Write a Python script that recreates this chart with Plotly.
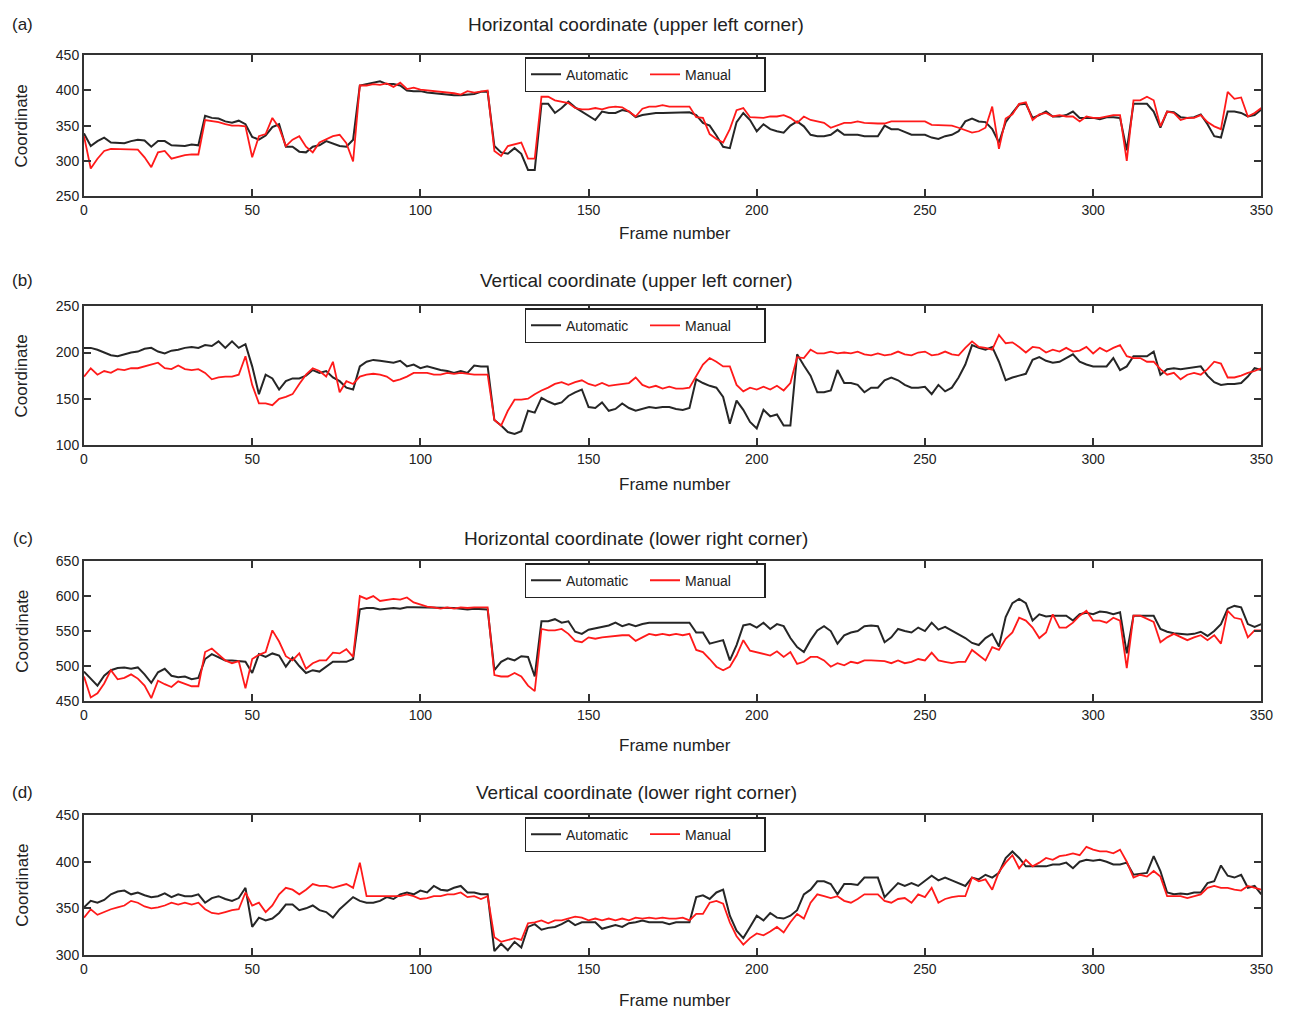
import plotly.graph_objects as go

frames = list(range(0, 351, 2))

a_auto = [339, 321, 328, 333, 326, 325, 325, 328, 330, 329,
          320, 328, 328, 322, 322, 321, 323, 322, 364, 361,
          360, 356, 354, 357, 352, 334, 330, 336, 348, 352,
          320, 320, 313, 312, 320, 322, 328, 324, 321, 320,
          330, 407, 409, 410, 413, 409, 409, 407, 400, 399,
          399, 397, 396, 395, 393, 393, 393, 394, 395, 398,
          398, 321, 312, 310, 318, 310, 287, 287, 381, 381,
          368, 375, 384, 376, 370, 363, 358, 370, 368, 368,
          372, 370, 362, 365, 367, 368, 368, 368, 368, 368,
          369, 365, 354, 350, 336, 320, 318, 355, 368, 358,
          342, 352, 345, 342, 340, 350, 356, 349, 337, 335,
          335, 337, 344, 337, 337, 337, 335, 335, 335, 350,
          345, 345, 341, 337, 337, 337, 333, 331, 335, 337,
          342, 356, 360, 356, 355, 345, 326, 355, 368, 380,
          381, 361, 365, 370, 363, 363, 365, 370, 361, 361,
          361, 359, 362, 362, 361, 315, 381, 381, 381, 370,
          347, 370, 369, 362, 361, 362, 366, 352, 335, 333,
          370, 370, 368, 363, 365, 373]
a_man = [335, 289, 303, 314, 317, 317, 316, 317, 316, 305,
         291, 312, 314, 303, 306, 308, 309, 309, 358, 357,
         355, 352, 350, 350, 349, 305, 335, 338, 361, 347,
         321, 330, 335, 320, 312, 326, 330, 335, 337, 325,
         299, 407, 407, 409, 408, 410, 405, 411, 402, 404,
         401, 400, 399, 398, 398, 396, 394, 399, 397, 398,
         400, 314, 307, 321, 324, 326, 303, 303, 391, 391,
         386, 384, 382, 375, 373, 373, 375, 373, 376, 377,
         376, 370, 363, 374, 377, 377, 379, 377, 377, 376,
         377, 362, 361, 338, 331, 326, 345, 372, 375, 362,
         361, 361, 363, 363, 365, 361, 354, 363, 358, 356,
         354, 347, 351, 354, 354, 356, 354, 353, 353, 353,
         356, 356, 356, 357, 356, 356, 351, 351, 351, 350,
         347, 343, 340, 342, 347, 377, 317, 360, 366, 381,
         383, 358, 366, 368, 363, 365, 363, 363, 356, 363,
         361, 361, 363, 365, 365, 300, 386, 386, 391, 386,
         349, 370, 368, 358, 361, 361, 365, 355, 349, 345,
         398, 388, 390, 363, 368, 375]

b_auto = [205, 205, 203, 200, 197, 196, 198, 200, 201, 204,
          205, 201, 199, 202, 203, 205, 206, 205, 208, 207,
          212, 205, 212, 205, 209, 185, 155, 176, 172, 160,
          169, 172, 172, 175, 181, 178, 180, 173, 169, 162,
          160, 185, 190, 192, 191, 190, 189, 191, 185, 187,
          183, 185, 183, 181, 180, 178, 180, 178, 186, 185,
          185, 127, 121, 114, 112, 115, 137, 135, 151, 147,
          144, 146, 153, 157, 160, 141, 140, 146, 137, 139,
          145, 140, 137, 139, 141, 140, 141, 141, 139, 138,
          140, 171, 167, 164, 162, 152, 123, 148, 138, 125,
          118, 138, 131, 133, 121, 121, 198, 186, 175, 157,
          157, 159, 181, 167, 167, 165, 157, 162, 162, 170,
          173, 170, 165, 162, 162, 163, 155, 165, 158, 162,
          173, 187, 208, 205, 203, 206, 190, 170, 173, 175,
          177, 192, 195, 191, 189, 190, 194, 198, 190, 187,
          185, 185, 185, 194, 181, 185, 196, 196, 196, 201,
          176, 182, 183, 182, 183, 184, 185, 175, 168, 165,
          166, 166, 167, 174, 183, 181]
b_man = [174, 183, 176, 180, 178, 182, 181, 183, 183, 185,
         187, 189, 183, 182, 186, 182, 181, 182, 178, 171,
         173, 174, 174, 176, 196, 165, 145, 145, 143, 150,
         152, 155, 166, 176, 183, 180, 174, 190, 157, 169,
         166, 174, 176, 177, 176, 174, 169, 171, 174, 178,
         178, 178, 176, 176, 178, 177, 178, 177, 176, 176,
         176, 127, 121, 137, 149, 149, 150, 155, 159, 162,
         166, 168, 165, 168, 170, 166, 164, 167, 164, 165,
         166, 167, 173, 165, 162, 164, 161, 163, 161, 161,
         162, 175, 187, 194, 190, 185, 185, 165, 158, 162,
         160, 163, 160, 164, 159, 167, 195, 194, 203, 199,
         199, 201, 199, 200, 199, 201, 198, 197, 199, 197,
         198, 201, 198, 197, 200, 201, 197, 198, 201, 198,
         197, 205, 212, 206, 205, 203, 219, 210, 211, 206,
         200, 206, 205, 200, 203, 201, 205, 201, 202, 206,
         199, 205, 201, 205, 208, 196, 194, 194, 190, 190,
         182, 176, 178, 171, 176, 178, 176, 182, 190, 188,
         173, 173, 175, 178, 180, 183]

c_auto = [492, 482, 472, 486, 494, 497, 498, 496, 498, 488,
          476, 491, 496, 486, 484, 485, 481, 483, 510, 517,
          513, 508, 508, 507, 506, 490, 517, 513, 518, 515,
          499, 512, 500, 490, 494, 492, 499, 506, 506, 506,
          510, 581, 583, 583, 581, 582, 583, 582, 584, 584,
          584, 584, 584, 583, 584, 583, 582, 581, 582, 581,
          581, 494, 506, 511, 508, 514, 513, 485, 564, 564,
          567, 562, 564, 549, 546, 552, 554, 555, 558, 562,
          557, 560, 557, 560, 562, 562, 562, 562, 563, 563,
          562, 548, 548, 532, 535, 537, 508, 530, 558, 560,
          555, 562, 553, 560, 557, 540, 527, 520, 537, 551,
          557, 550, 532, 544, 548, 550, 557, 558, 557, 534,
          541, 553, 550, 548, 555, 550, 562, 552, 556, 551,
          546, 540, 533, 530, 540, 546, 528, 570, 590, 596,
          590, 565, 574, 571, 572, 572, 572, 565, 574, 576,
          574, 578, 577, 574, 577, 518, 572, 572, 572, 572,
          553, 549, 547, 546, 545, 546, 549, 543, 550, 560,
          582, 586, 584, 560, 556, 560]
c_man = [485, 455, 461, 475, 494, 481, 483, 488, 482, 472,
         454, 479, 474, 470, 478, 474, 471, 471, 520, 525,
         516, 508, 504, 507, 468, 510, 516, 520, 551, 535,
         514, 508, 518, 496, 504, 508, 508, 519, 518, 524,
         513, 600, 596, 600, 593, 595, 596, 595, 598, 591,
         588, 585, 584, 582, 584, 582, 584, 583, 584, 584,
         584, 487, 485, 485, 490, 485, 472, 464, 553, 551,
         551, 553, 546, 536, 534, 541, 539, 541, 542, 544,
         544, 544, 536, 541, 546, 544, 546, 544, 546, 544,
         546, 523, 520, 510, 499, 494, 499, 515, 537, 522,
         520, 518, 515, 521, 513, 520, 503, 506, 513, 513,
         508, 499, 504, 501, 506, 504, 508, 508, 508, 507,
         504, 508, 504, 506, 510, 508, 519, 508, 506, 504,
         506, 506, 523, 515, 508, 527, 523, 539, 548, 569,
         565, 555, 540, 548, 574, 555, 555, 562, 572, 579,
         565, 565, 562, 569, 565, 497, 572, 572, 567, 563,
         534, 541, 546, 541, 537, 541, 544, 537, 544, 532,
         579, 569, 567, 541, 551, 551]

d_auto = [351, 358, 356, 359, 365, 368, 369, 365, 367, 364,
          362, 363, 366, 362, 365, 363, 363, 365, 356, 361,
          363, 360, 358, 361, 372, 330, 340, 337, 339, 345,
          354, 354, 348, 350, 353, 348, 346, 340, 349, 355,
          362, 358, 356, 356, 358, 362, 360, 365, 367, 365,
          369, 367, 374, 370, 369, 372, 374, 367, 367, 365,
          365, 304, 312, 305, 314, 308, 330, 333, 327, 329,
          330, 333, 337, 332, 335, 335, 335, 328, 330, 332,
          330, 334, 335, 337, 335, 335, 335, 333, 335, 335,
          335, 362, 364, 360, 367, 370, 342, 326, 318, 330,
          342, 337, 345, 340, 339, 342, 348, 365, 370, 379,
          379, 376, 365, 376, 376, 375, 383, 383, 383, 362,
          370, 377, 374, 377, 374, 380, 385, 380, 383, 380,
          377, 374, 383, 381, 386, 383, 388, 404, 411, 404,
          395, 395, 395, 395, 397, 397, 399, 393, 400, 402,
          401, 402, 400, 397, 397, 399, 386, 387, 388, 406,
          390, 367, 365, 366, 365, 367, 367, 377, 379, 396,
          385, 383, 386, 372, 374, 365]
d_man = [340, 349, 343, 346, 349, 351, 353, 358, 356, 352,
         350, 351, 353, 356, 354, 356, 354, 356, 349, 345,
         344, 346, 348, 349, 367, 353, 356, 346, 353, 365,
         372, 370, 365, 370, 376, 374, 374, 372, 374, 376,
         372, 399, 363, 363, 363, 363, 363, 363, 365, 363,
         360, 361, 363, 363, 365, 365, 367, 362, 363, 360,
         363, 319, 314, 316, 318, 316, 334, 335, 337, 334,
         337, 337, 339, 341, 340, 337, 339, 337, 339, 337,
         339, 337, 340, 339, 340, 339, 340, 339, 339, 340,
         337, 344, 344, 356, 358, 355, 335, 320, 311, 318,
         323, 321, 325, 330, 324, 335, 344, 339, 356, 365,
         363, 361, 363, 358, 356, 360, 365, 365, 365, 358,
         356, 360, 361, 356, 365, 362, 372, 356, 360, 362,
         363, 363, 383, 379, 381, 370, 389, 399, 407, 393,
         402, 395, 399, 404, 402, 406, 407, 409, 407, 416,
         413, 411, 411, 409, 413, 400, 383, 386, 384, 390,
         384, 363, 363, 363, 361, 363, 365, 372, 374, 372,
         372, 370, 369, 374, 372, 370]

panel_labels = ["(a)", "(b)", "(c)", "(d)"]
panel_titles = ["Horizontal coordinate (upper left corner)",
                "Vertical coordinate (upper left corner)",
                "Horizontal coordinate (lower right corner)",
                "Vertical coordinate (lower right corner)"]
y_ranges = [(250, 450), (100, 250), (450, 650), (300, 450)]
y_dtick = 50
x_ticks = [0, 50, 100, 150, 200, 250, 300, 350]
series = [(a_auto, a_man), (b_auto, b_man), (c_auto, c_man), (d_auto, d_man)]

W, H = 1299, 1019


def px(x):
    return x / W


def py(y):
    return 1 - y / H


FONT = "Liberation Sans, Arial, Helvetica, sans-serif"
TXT = "#222222"
# window pixels of each panel: (top, bottom, title_y, xlabel_y)
panels_px = [(48, 191, 17, 229), (303, 444, 277, 484), (562, 704, 539, 749), (820, 962, 797, 1008)]
x_left, x_right = 81, 1273

fig = go.Figure()
legend_names = ["legend", "legend2", "legend3", "legend4"]
layout = dict(width=W, height=H, margin=dict(l=0, r=0, t=0, b=0),
              paper_bgcolor="white", plot_bgcolor="white",
              font=dict(family=FONT, color=TXT, size=14))
annotations = []

for i in range(4):
    auto, man = series[i]
    top, bot, ty, xly = panels_px[i]
    xa = "x" if i == 0 else f"x{i+1}"
    ya = "y" if i == 0 else f"y{i+1}"
    xkey = "xaxis" if i == 0 else f"xaxis{i+1}"
    ykey = "yaxis" if i == 0 else f"yaxis{i+1}"
    fig.add_trace(go.Scatter(x=frames, y=auto, mode="lines", name="Automatic",
                             line=dict(color="#262626", width=2),
                             xaxis=xa, yaxis=ya, legend=legend_names[i]))
    fig.add_trace(go.Scatter(x=frames, y=man, mode="lines", name="Manual",
                             line=dict(color="#ff1a1a", width=1.8),
                             xaxis=xa, yaxis=ya, legend=legend_names[i]))
    axis_common = dict(showline=True, mirror="ticks", linecolor="#333333", linewidth=2,
                       ticks="inside", ticklen=7, tickwidth=2, tickcolor="#333333",
                       showgrid=False, zeroline=False,
                       tickfont=dict(family=FONT, size=14, color=TXT))
    layout[xkey] = dict(domain=[px(x_left), px(x_right)], range=[0, 350],
                        tickvals=x_ticks, anchor=ya, **axis_common)
    layout[ykey] = dict(domain=[py(bot), py(top)], range=list(y_ranges[i]),
                        dtick=y_dtick, anchor=xa, **axis_common)
    layout[legend_names[i]] = dict(x=px(649), y=py(top + 2), xanchor="center", yanchor="top",
                                   orientation="h", bordercolor="#222222", borderwidth=1.5,
                                   bgcolor="white", font=dict(family=FONT, size=14, color=TXT),
                                   itemwidth=30, entrywidth=74, tracegroupgap=0)
    annotations.append(dict(text=panel_labels[i], x=px(19), y=py(ty), xref="paper", yref="paper",
                            xanchor="center", yanchor="middle",
                            showarrow=False, font=dict(family=FONT, size=17, color=TXT)))
    annotations.append(dict(text=panel_titles[i], x=px(640), y=py(ty), xref="paper", yref="paper",
                            xanchor="center", yanchor="middle",
                            showarrow=False, font=dict(family=FONT, size=19, color=TXT)))
    annotations.append(dict(text="Frame number", x=px(679), y=py(xly), xref="paper", yref="paper",
                            xanchor="center", yanchor="middle",
                            showarrow=False, font=dict(family=FONT, size=17, color=TXT)))
    annotations.append(dict(text="Coordinate", x=px(18), y=py((top + bot) / 2), xref="paper",
                            yref="paper", showarrow=False, textangle=-90,
                            xanchor="center", yanchor="middle",
                            font=dict(family=FONT, size=17, color=TXT)))

layout["annotations"] = annotations
fig.update_layout(**layout)
fig.write_html("out.html")
